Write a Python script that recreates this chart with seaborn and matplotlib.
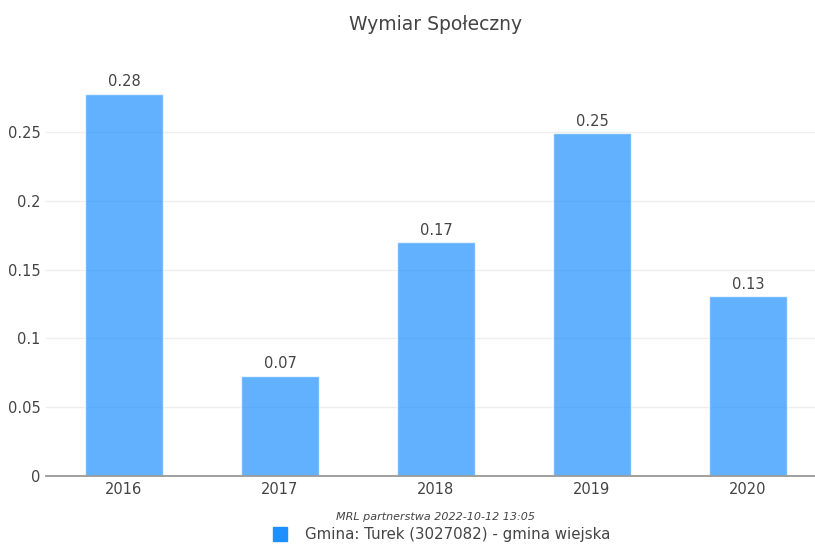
import pandas as pd
import seaborn as sns
import matplotlib.pyplot as plt
from matplotlib.patches import Rectangle

# Chart data
years = ['2016', '2017', '2018', '2019', '2020']
values = [0.278, 0.073, 0.170, 0.249, 0.131]
labels = ['0.28', '0.07', '0.17', '0.25', '0.13']
y_ticks = [0, 0.05, 0.1, 0.15, 0.2, 0.25]
y_tick_labels = ['0', '0.05', '0.1', '0.15', '0.2', '0.25']
series_name = 'Gmina: Turek (3027082) - gmina wiejska'
title = 'Wymiar Społeczny'
footnote = 'MRL partnerstwa 2022-10-12 13:05'

df = pd.DataFrame({'year': years, 'value': values})

sns.set_style('white')
plt.rcParams['font.family'] = ['DejaVu Sans']
text_color = '#444444'

W, H = 815, 545
fig = plt.figure(figsize=(W / 100, H / 100), dpi=100)
# plot area in pixel coords: left 46, right 826, top 77, bottom 476
ax = fig.add_axes([46 / W, 1 - 476 / H, 780 / W, (476 - 77) / H])

sns.barplot(data=df, x='year', y='value', color='dodgerblue', alpha=0.7,
            width=0.5, saturation=1, ax=ax, zorder=2)

ax.set_ylim(0, 0.29)
ax.set_xlim(-0.5, 4.5)
ax.set_yticks(y_ticks)
ax.set_yticklabels(y_tick_labels)
ax.grid(axis='y', color='#eeeeee', linewidth=1, zorder=0)
ax.set_axisbelow(True)
for side in ['top', 'right', 'left']:
    ax.spines[side].set_visible(False)
ax.spines['bottom'].set_color('#999999')
ax.spines['bottom'].set_linewidth(1.3)
ax.tick_params(axis='both', length=0, labelsize=10.5, colors=text_color, pad=4)
ax.set_xlabel('')
ax.set_ylabel('')

for i, (v, lab) in enumerate(zip(values, labels)):
    ax.annotate(lab, (i, v), xytext=(0, 3), textcoords='offset points',
                ha='center', va='bottom', fontsize=10.5, color=text_color)

fig.text(436 / W, 1 - 25 / H, title, ha='center', va='center',
         fontsize=13.5, color=text_color)
fig.text(436 / W, 1 - 517 / H, footnote, ha='center', va='center',
         fontsize=8, style='italic', color=text_color)

# legend entry below the chart
fig.patches.append(Rectangle((273 / W, 1 - 541 / H), 14 / W, 14 / H,
                             transform=fig.transFigure, color='dodgerblue',
                             figure=fig))
fig.text(305 / W, 1 - 534 / H, series_name, ha='left', va='center',
         fontsize=10.8, color=text_color)

fig.savefig('out.png', dpi=100)
